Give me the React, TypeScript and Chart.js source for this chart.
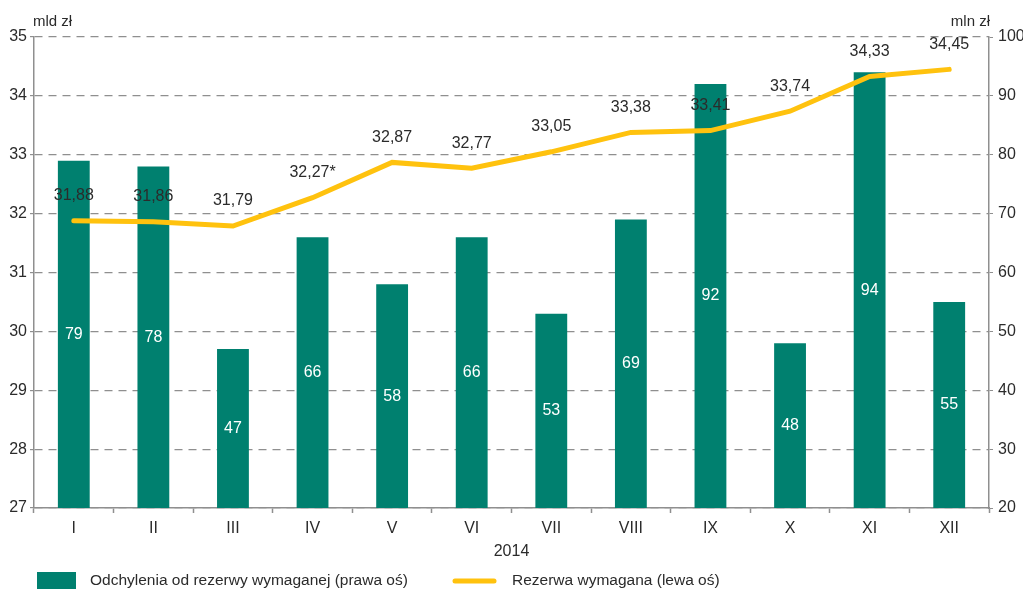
import React, { useEffect, useRef } from "react";
import { Chart, registerables } from "chart.js";

Chart.register(...registerables);

const categories = ["I", "II", "III", "IV", "V", "VI", "VII", "VIII", "IX", "X", "XI", "XII"];
const deviationValues = [79, 78, 47, 66, 58, 66, 53, 69, 92, 48, 94, 55];
const reserveValues = [31.88, 31.86, 31.79, 32.27, 32.87, 32.77, 33.05, 33.38, 33.41, 33.74, 34.33, 34.45];
const reserveNotes = ["", "", "", "*", "", "", "", "", "", "", "", ""];
const leftTicks = { min: 27, max: 35, step: 1 };
const rightTicks = { min: 20, max: 100, step: 10 };
const xTitle = "2014";
const leftUnit = "mld zł";
const rightUnit = "mln zł";
const barLabel = "Odchylenia od rezerwy wymaganej (prawa oś)";
const lineLabel = "Rezerwa wymagana (lewa oś)";

const FONT = '"Liberation Sans", Arial, sans-serif';
const TEAL = "#00806f";
const YELLOW = "#ffc20e";
const TEXT = "#2b2b2b";
const GRID = "#8f8f8f";

const fmt = (v: number) => v.toFixed(2).replace(".", ",");

const labelsPlugin = {
  id: "customLabels",
  afterDatasetsDraw(chart: any) {
    const ctx = chart.ctx;
    const area = chart.chartArea;
    ctx.save();
    ctx.textAlign = "center";
    ctx.textBaseline = "middle";
    ctx.font = `16px ${FONT}`;
    // bar labels (centred in the visible part of each bar)
    const barMeta = chart.getDatasetMeta(0);
    barMeta.data.forEach((el: any, i: number) => {
      const mid = (el.y + area.bottom) / 2;
      ctx.fillStyle = "#ffffff";
      ctx.fillText(String(deviationValues[i]), el.x, mid);
    });
    // line labels
    const lineMeta = chart.getDatasetMeta(1);
    lineMeta.data.forEach((el: any, i: number) => {
      ctx.fillStyle = TEXT;
      ctx.fillText(fmt(reserveValues[i]) + reserveNotes[i], el.x, el.y - 25);
    });
    // units
    ctx.fillStyle = TEXT;
    ctx.font = `15px ${FONT}`;
    ctx.textAlign = "left";
    ctx.fillText(leftUnit, area.left - 1, 22);
    ctx.textAlign = "right";
    ctx.fillText(rightUnit, area.right + 1, 22);
    // x title
    ctx.font = `16px ${FONT}`;
    ctx.textAlign = "center";
    ctx.fillText(xTitle, (area.left + area.right) / 2, 552);
    // legend
    const ly = 581;
    ctx.font = `15.5px ${FONT}`;
    ctx.fillStyle = TEAL;
    ctx.fillRect(37, 572, 39, 18);
    ctx.fillStyle = TEXT;
    ctx.textAlign = "left";
    ctx.fillText(barLabel, 90, ly);
    ctx.strokeStyle = YELLOW;
    ctx.lineWidth = 5;
    ctx.lineCap = "round";
    ctx.beginPath();
    ctx.moveTo(455, ly);
    ctx.lineTo(494, ly);
    ctx.stroke();
    ctx.fillText(lineLabel, 512, ly);
    ctx.restore();
  },
};

export default function App() {
  const ref = useRef<HTMLCanvasElement | null>(null);
  useEffect(() => {
    document.body.style.margin = "0";
    const canvas = ref.current!;
    const chart = new Chart(canvas, {
      type: "bar",
      data: {
        labels: categories,
        datasets: [
          {
            type: "bar",
            label: barLabel,
            data: deviationValues,
            backgroundColor: TEAL,
            borderWidth: 0,
            yAxisID: "y1",
            categoryPercentage: 1,
            barPercentage: 0.4,
            order: 2,
          },
          {
            type: "line",
            label: lineLabel,
            data: reserveValues,
            borderColor: YELLOW,
            backgroundColor: YELLOW,
            borderWidth: 5,
            pointRadius: 0,
            tension: 0,
            yAxisID: "y",
            order: 1,
            borderCapStyle: "round",
          } as any,
        ],
      },
      options: {
        animation: false,
        responsive: false,
        layout: { padding: { top: 37, left: 0, right: 0, bottom: 0 } },
        plugins: { legend: { display: false }, tooltip: { enabled: false } },
        scales: {
          x: {
            offset: true,
            grid: {
              offset: true,
              drawOnChartArea: false,
              tickLength: 5,
              tickColor: GRID,
              tickWidth: 1.5,
            },
            border: { color: GRID, width: 1.5 },
            ticks: { color: TEXT, font: { family: FONT, size: 16 }, padding: 6 },
            afterFit: (s: any) => {
              s.height = 81;
            },
          },
          y: {
            position: "left",
            min: leftTicks.min,
            max: leftTicks.max,
            ticks: { stepSize: leftTicks.step, color: TEXT, font: { family: FONT, size: 16 }, padding: 3 },
            grid: {
              color: GRID,
              lineWidth: 1.2,
              tickLength: 4,
              tickColor: GRID,
              tickBorderDash: [],
            },
            border: { color: GRID, width: 1.5, dash: [8, 6] },
            afterFit: (s: any) => {
              s.width = 34;
            },
          },
          y1: {
            position: "right",
            min: rightTicks.min,
            max: rightTicks.max,
            ticks: { stepSize: rightTicks.step, color: TEXT, font: { family: FONT, size: 16 }, padding: 5 },
            grid: { drawOnChartArea: false, tickLength: 4, tickColor: GRID },
            border: { color: GRID, width: 1.5 },
            afterFit: (s: any) => {
              s.width = 34;
            },
          },
        },
      },
      plugins: [labelsPlugin],
    });
    return () => chart.destroy();
  }, []);
  return <canvas ref={ref} width={1023} height={589} style={{ display: "block" }} />;
}
